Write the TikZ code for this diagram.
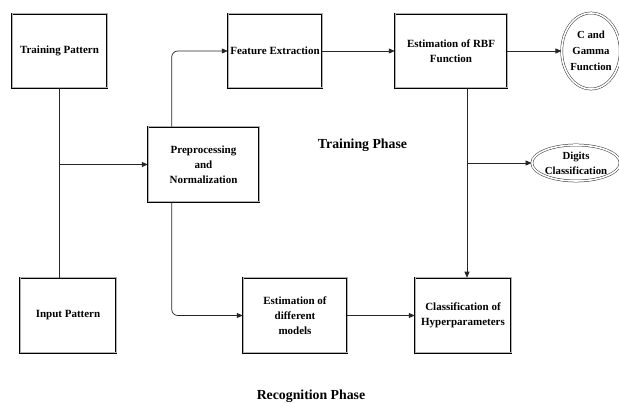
\documentclass[tikz,border=0pt]{standalone}
\usepackage{fontspec}
\setmainfont{Liberation Serif}
\usetikzlibrary{arrows.meta,shapes.geometric,calc}
\begin{document}
\begin{tikzpicture}[x=1pt,y=-1pt,
  box/.style={draw=black, line width=0.5pt, double=gray!60, double distance=1pt,
    inner sep=0pt, align=center, minimum height=74pt,
    font=\bfseries\fontsize{11}{15}\selectfont},
  oval/.style={ellipse, draw=black!80, line width=0.5pt, double=white, double distance=1.6pt,
    inner sep=0pt, align=center, font=\bfseries\fontsize{10.8}{16}\selectfont},
  conn/.style={draw=black!85, line width=0.7pt},
  arr/.style={conn, -{Triangle[length=6pt,width=5pt]}},
  phase/.style={font=\bfseries\fontsize{13.8}{16}\selectfont, anchor=base}
]
\useasboundingbox (0,0) rectangle (619,403);

\node[box, minimum width=95pt] (tp) at (59.5,51) {Training Pattern};
\node[box, minimum width=94pt] (fe) at (275,51) {Feature Extraction};
\node[box, minimum width=111pt, minimum height=75pt] (pp) at (203.5,164.5) {Preprocessing\\and\\Normalization};
\node[box, minimum width=112pt] (rbf) at (451,51) {Estimation of RBF\\Function};
\node[oval, minimum width=56pt, minimum height=76pt] (cg) at (591,51) {C and\\Gamma\\Function};
\node[oval, minimum width=86pt, minimum height=36pt, font=\bfseries\fontsize{10.8}{15}\selectfont] (dc) at (576,163) {Digits\\Classification};
\node[box, minimum width=96pt, minimum height=75pt] (ip) at (68,315.5) {Input Pattern};
\node[box, minimum width=104pt, minimum height=75pt] (edm) at (295,315.5) {Estimation of\\different\\models};
\node[box, minimum width=96pt, minimum height=75pt] (ch) at (463,315.5) {Classification of\\Hyperparameters};

\node[phase] (trph) at (362.5,149) {Training Phase};
\node[phase] (reph) at (311,399.5) {Recognition Phase};

% training pattern trunk
\draw[conn, line width=0.9pt] (tp.south) -- (tp.south |- ip.north);
\coordinate (br1) at (tp.south |- pp.west);
\draw[arr] (br1) -- (pp.west);

% preprocessing outputs
\coordinate (ppt) at ([xshift=24pt]pp.north west);
\coordinate (ppb) at ([xshift=24pt]pp.south west);
\draw[arr, rounded corners=6pt] (ppt) |- (fe.west);
\draw[arr, rounded corners=6pt] (ppb) |- (edm.west);

\draw[arr] (fe.east) -- (rbf.west);
\draw[arr] (rbf.east) -- (cg.west);

\coordinate (rb) at ([xshift=16pt]rbf.south);
\draw[arr] (rb) -- (rb |- ch.north);
\coordinate (br2) at (rb |- dc.west);
\draw[arr] (br2) -- (dc.west);

\draw[arr] (edm.east) -- (ch.west);
\end{tikzpicture}
\end{document}
